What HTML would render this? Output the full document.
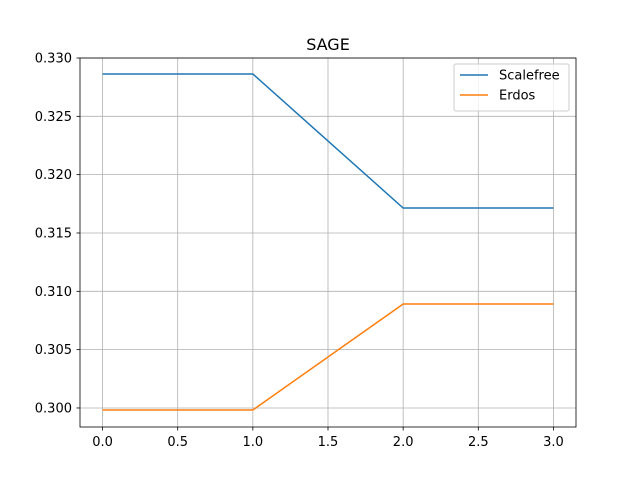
<!DOCTYPE html>
<html><head><meta charset="utf-8"><style>body{margin:0;background:#fff}svg{display:block;font-family:"DejaVu Sans","Liberation Sans",sans-serif}</style></head>
<body>
<svg id="chart" width="640" height="480"></svg>
<script>
const xValues = [0, 1, 2, 3];
const scalefree = [0.32863, 0.32863, 0.31714, 0.31714];
const erdos = [0.29983, 0.29983, 0.30891, 0.30891];
const xTicks = [0, 0.5, 1, 1.5, 2, 2.5, 3];
const yTicks = [0.300, 0.305, 0.310, 0.315, 0.320, 0.325, 0.330];
const L=80,R=576,T=58,B=427, x0=-0.15,x1=3.15, y0=0.29837,y1=0.33;
const sx=v=>L+(v-x0)/(x1-x0)*(R-L);
const sy=v=>B-(v-y0)/(y1-y0)*(B-T);
const svg=document.getElementById('chart');
const NS='http://www.w3.org/2000/svg';
function mk(t,a,txt){const e=document.createElementNS(NS,t);for(const k in a)e.setAttribute(k,a[k]);if(txt!=null)e.textContent=txt;svg.appendChild(e);return e;}
xTicks.forEach(v=>{const x=sx(v);
const g=mk('line',{x1:x,x2:x,y1:T,y2:B,stroke:'#b0b0b0','stroke-width':0.8});


mk('line',{x1:x,x2:x,y1:B,y2:B+3.5,stroke:'#000','stroke-width':0.8});
const t=mk('text',{x:x,y:B+19,'text-anchor':'middle','font-size':13},v.toFixed(1));

});
yTicks.forEach(v=>{const y=sy(v);
const g=mk('line',{x1:L,x2:R,y1:y,y2:y,stroke:'#b0b0b0','stroke-width':0.8});


mk('line',{x1:L-3.5,x2:L,y1:y,y2:y,stroke:'#000','stroke-width':0.8});
const t=mk('text',{x:L-8,y:y+4.5,'text-anchor':'end','font-size':13},v.toFixed(3));

});
function line(arr,color,name){const p=mk('polyline',{points:arr.map((v,i)=>sx(xValues[i])+','+sy(v)).join(' '),fill:'none',stroke:color,'stroke-width':1.5});

}
line(scalefree,'#1f77b4','scalefree-line');
line(erdos,'#ff7f0e','erdos-line');
const fr=mk('rect',{x:L,y:T,width:R-L,height:B-T,fill:'none',stroke:'#000','stroke-width':0.8});


const ti=mk('text',{x:(L+R)/2,y:T-8,'text-anchor':'middle','font-size':16},'SAGE');


const lg=mk('rect',{x:454,y:64,width:115,height:47,fill:'#fff','fill-opacity':0.8,stroke:'#ccc',rx:2});


[['Scalefree','#1f77b4'],['Erdos','#ff7f0e']].forEach((d,i)=>{const y=75+i*20;
mk('line',{x1:460,x2:488,y1:y,y2:y,stroke:d[1],'stroke-width':1.5});
const t=mk('text',{x:499,y:y+4.5,'font-size':13},d[0]);

});
</script>
</body></html>
